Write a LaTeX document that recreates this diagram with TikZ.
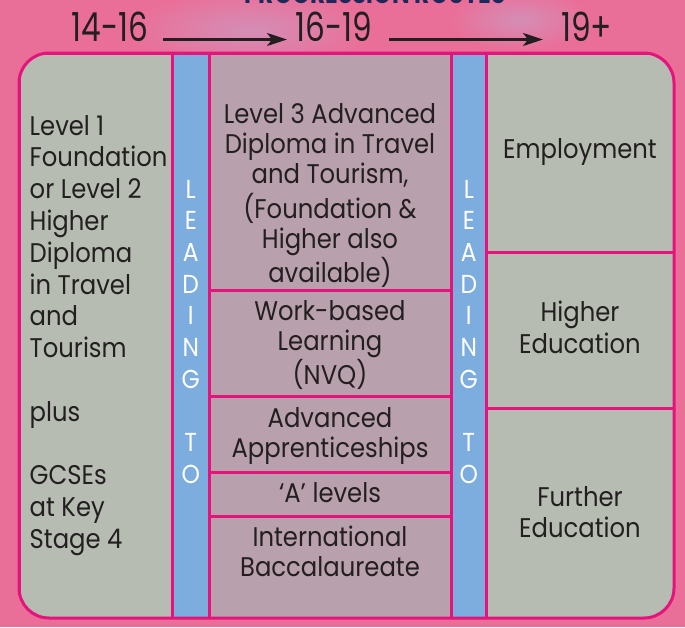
\documentclass[tikz,border=0pt]{standalone}
\usepackage{fontspec}
\setmainfont{Poppins}[FakeStretch=0.9]
\newfontfamily\headfont{Poppins}[FakeStretch=0.78]
\usetikzlibrary{arrows.meta}
\definecolor{bgpink}{RGB}{234,111,152}
\definecolor{lilac}{RGB}{212,142,182}
\definecolor{rim}{RGB}{229,20,125}
\definecolor{cellgrey}{RGB}{182,188,177}
\definecolor{cellmauve}{RGB}{184,160,172}
\definecolor{stripblue}{RGB}{125,173,222}
\definecolor{ink}{RGB}{35,31,32}
\definecolor{navy}{RGB}{30,40,90}
\newcommand\mlc[1]{\begin{tabular}[t]{@{}c@{}}#1\end{tabular}}
\newcommand\mll[1]{\begin{tabular}[t]{@{}l@{}}#1\end{tabular}}
\begin{document}
\begin{tikzpicture}[x=1pt,y=-1pt,
  cell/.style={inner sep=0pt,outer sep=0pt,anchor=north west},
  rimline/.style={draw=rim,line width=3pt},
  body/.style={inner sep=0pt,text=ink,font=\fontsize{27}{30.4}\selectfont},
  lead/.style={inner sep=0pt,text=white,anchor=base,font=\fontsize{26}{31.7}\selectfont},
  head/.style={inner sep=0pt,text=ink,anchor=base,font=\headfont\fontsize{40}{40}\selectfont},
  arr/.style={draw=ink,line width=2.3pt,-{Stealth[length=20pt,width=13pt,inset=5pt]}}]
\useasboundingbox (0,0) rectangle (685,627);
\clip (0,0) rectangle (685,627);
\fill[bgpink] (0,0) rectangle (685,627);
\shade[inner color=lilac,outer color=bgpink] (250,30) ellipse (120pt and 40pt);
\shade[inner color=lilac,outer color=bgpink] (520,20) ellipse (70pt and 30pt);
% clipped title
\node[inner sep=0pt,anchor=base,text=navy,font=\headfont\bfseries\fontsize{30}{30}\selectfont] (title) at (375,3.5) {PROGRESSION ROUTES};
% headings
\node[head] (h1) at (110,41.7) {14-16};
\node[head] (h2) at (334,41.7) {16-19};
\node[head] (h3) at (586.5,41.7) {19+};
\coordinate (a1s) at (163,39.5);
\coordinate (a1e) at (287,39.5);
\coordinate (a2s) at (389,39.5);
\coordinate (a2e) at (543,39.5);
\draw[arr] (a1s) -- (a1e);
\draw[arr] (a2s) -- (a2e);
% cells
\begin{scope}
\clip[rounded corners=30pt] (19,53) rectangle (674,618);
\node[cell,fill=cellgrey,minimum width=153.5pt,minimum height=565pt] (left) at (19,53) {};
\node[cell,fill=stripblue,minimum width=36.5pt,minimum height=565pt] (blue1) at (172.5,53) {};
\node[cell,fill=cellmauve,minimum width=242pt,minimum height=237pt] (mid1) at (209,53) {};
\node[cell,fill=cellmauve,minimum width=242pt,minimum height=106pt] (mid2) at (209,290) {};
\node[cell,fill=cellmauve,minimum width=242pt,minimum height=76pt] (mid3) at (209,396) {};
\node[cell,fill=cellmauve,minimum width=242pt,minimum height=44pt] (mid4) at (209,472) {};
\node[cell,fill=cellmauve,minimum width=242pt,minimum height=102pt] (mid5) at (209,516) {};
\node[cell,fill=stripblue,minimum width=35.7pt,minimum height=565pt] (blue2) at (451,53) {};
\node[cell,fill=cellgrey,minimum width=187.3pt,minimum height=199pt] (r1) at (486.7,53) {};
\node[cell,fill=cellgrey,minimum width=187.3pt,minimum height=156pt] (r2) at (486.7,252) {};
\node[cell,fill=cellgrey,minimum width=187.3pt,minimum height=210pt] (r3) at (486.7,408) {};
\foreach \c in {left,blue1,mid1,mid2,mid3,mid4,mid5,blue2,r1,r2,r3}
  \draw[rimline] (\c.north west) rectangle (\c.south east);
\end{scope}
\draw[rimline,rounded corners=30pt] (19,53) rectangle (674,618);
% texts
\node[body,anchor=base west,font=\fontsize{27}{31.8}\selectfont] (ltext) at (29.5,135)
  {\mll{Level 1\\Foundation\\or Level 2\\Higher\\Diploma\\in Travel\\and\\Tourism\\ \\plus\\ \\GCSEs\\at Key\\Stage 4}};
\node[lead] (lead1) at (190.75,198) {\mlc{L\\E\\A\\D\\I\\N\\G\\ \\T\\O}};
\node[lead] (lead2) at (468.8,198) {\mlc{L\\E\\A\\D\\I\\N\\G\\ \\T\\O}};
\node[body,anchor=base] (m1t) at (330,123) {\mlc{Level 3 Advanced\\Diploma in Travel\\and Tourism,\\(Foundation \&\\Higher also\\available)}};
\node[body,anchor=base,font=\fontsize{27}{30}\selectfont] (m2t) at (330,320) {\mlc{Work-based\\Learning\\(NVQ)}};
\node[body,anchor=base,font=\fontsize{27}{30}\selectfont] (m3t) at (330,427) {\mlc{Advanced\\Apprenticeships}};
\node[body,anchor=base] (m4t) at (330,502) {‘A’ levels};
\node[body,anchor=base,font=\fontsize{27}{30.5}\selectfont] (m5t) at (330,546) {\mlc{International\\Baccalaureate}};
\node[body,anchor=base] (r1t) at (580,158) {Employment};
\node[body,anchor=base,font=\fontsize{27}{32}\selectfont] (r2t) at (580,321) {\mlc{Higher\\Education}};
\node[body,anchor=base,font=\fontsize{27}{31}\selectfont] (r3t) at (580,506) {\mlc{Further\\Education}};
\end{tikzpicture}
\end{document}
